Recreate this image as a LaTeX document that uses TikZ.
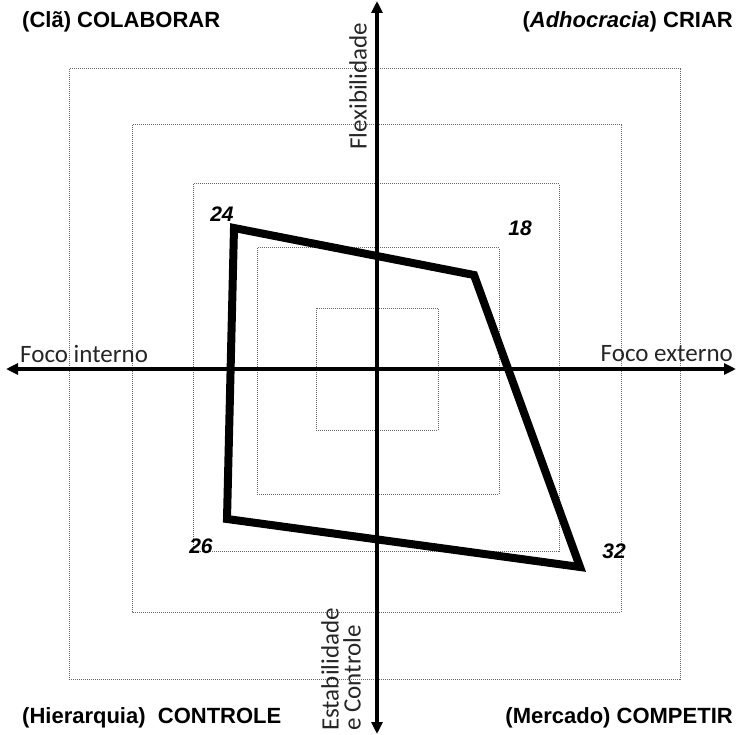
\documentclass[tikz,border=0pt]{standalone}
\usepackage{fontspec}
\setmainfont{Liberation Sans}
\newfontfamily\calfont{Carlito}
\usetikzlibrary{arrows.meta}
\begin{document}
\begin{tikzpicture}[x=1pt,y=-1pt,
  ring/.style={draw=black!60, densely dotted, line width=1pt},
  axis/.style={line width=3.5pt, -{Triangle[length=12pt,width=11pt]}},
  profile/.style={line width=8pt, line join=miter},
  quad/.style={font=\fontsize{22}{26}\selectfont\bfseries, inner sep=0pt},
  axlabel/.style={text=black!85, font=\calfont\fontsize{25}{22}\selectfont, inner sep=0pt},
  score/.style={font=\fontsize{21}{24}\selectfont\bfseries\itshape, inner sep=0pt}]
\useasboundingbox (0,0) rectangle (736,735);

% concentric dotted frames
\draw[ring] (69,69) rectangle (680,679);
\draw[ring] (132,125) rectangle (621,612);
\draw[ring] (193,184) rectangle (559,551);
\draw[ring] (257,248) rectangle (499,494);
\draw[ring] (316,308) rectangle (438,430);

% axes
\coordinate (c) at (377,369);
\coordinate (left) at (6,369);
\coordinate (right) at (736,369);
\coordinate (top) at (377,1);
\coordinate (bottom) at (377,734);
\draw[axis] (c) -- (left);
\draw[axis] (c) -- (right);
\draw[axis] (c) -- (top);
\draw[axis] (c) -- (bottom);

% culture profile
\coordinate (p24) at (234,228);
\coordinate (p18) at (474,275);
\coordinate (p32) at (580,567);
\coordinate (p26) at (227,519);
\draw[profile] (p24) -- (p18) -- (p32) -- (p26) -- cycle;

\node[score] (l24) at (222,214) {24};
\node[score] (l18) at (520,228) {18};
\node[score] (l26) at (201,546) {26};
\node[score] (l32) at (614,551) {32};

% axis labels
\node[axlabel, anchor=west] (fi) at (20,354) {Foco interno};
\node[axlabel, anchor=east] (fe) at (733,354) {Foco externo};
\node[axlabel, rotate=90, anchor=west] (flex) at (358,150) {Flexibilidade};
\node[axlabel, rotate=90, anchor=west, align=left] (estab) at (341,731) {Estabilidade\\e Controle};

% quadrant labels
\node[quad, anchor=west] (q1) at (22,22) {(Clã) COLABORAR};
\node[quad, anchor=east] (q2) at (733,22) {(\textit{Adhocracia}) CRIAR};
\node[quad, anchor=west] (q3) at (22,718) {(Hierarquia)\ \ CONTROLE};
\node[quad, anchor=east] (q4) at (733,718) {(Mercado) COMPETIR};
\end{tikzpicture}
\end{document}
